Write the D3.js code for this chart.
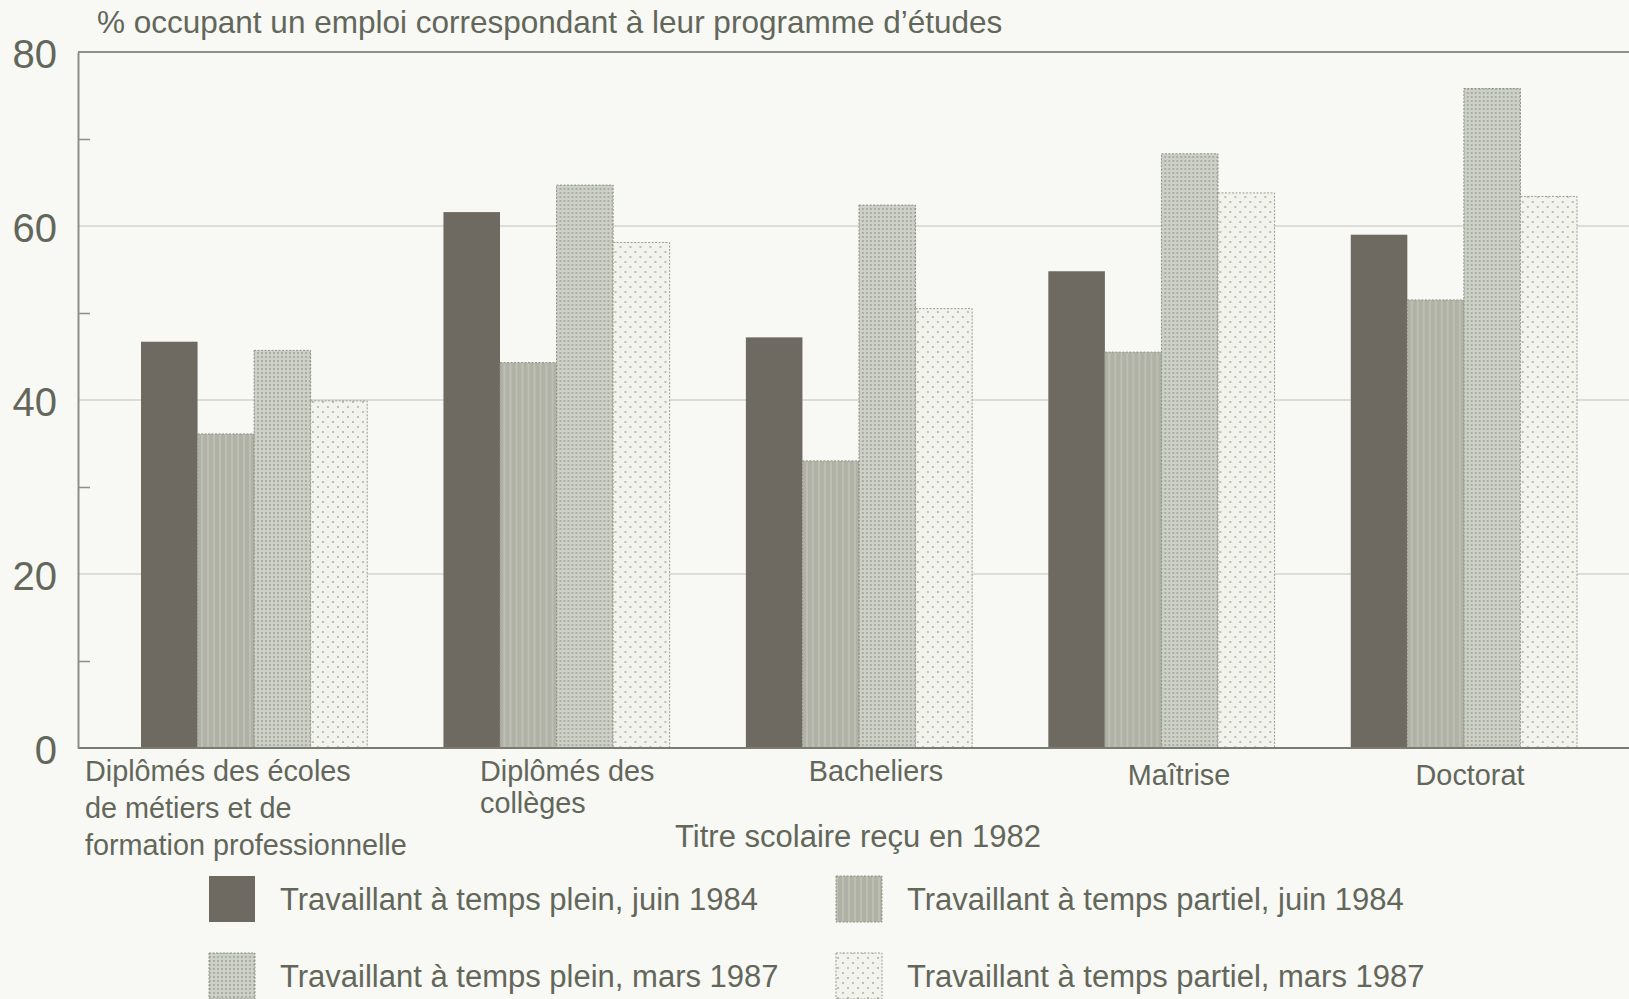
<!DOCTYPE html>
<html>
<head>
<meta charset="utf-8">
<script src="https://cdn.jsdelivr.net/npm/d3@7"></script>
<style>
  html, body { margin: 0; padding: 0; background: #f8f8f5; }
  svg { display: block; }
  text { font-family: "Liberation Sans", Arial, sans-serif; fill: #62675a; }
</style>
</head>
<body>
<svg id="chart" width="1629" height="999"></svg>
<script>
// Categories (diploma received in 1982)
const categories = [
  ["Diplômés des écoles", "de métiers et de", "formation professionnelle"],
  ["Diplômés des", "collèges"],
  ["Bacheliers"],
  ["Maîtrise"],
  ["Doctorat"]
];
const categoryKeys = ["ecoles", "colleges", "bacheliers", "maitrise", "doctorat"];

// Series (employment situation and survey date)
const seriesNames = [
  "Travaillant à temps plein, juin 1984",
  "Travaillant à temps partiel, juin 1984",
  "Travaillant à temps plein, mars 1987",
  "Travaillant à temps partiel, mars 1987"
];

// % holding a job related to their field of study
const pleinJuin1984   = [46.7, 61.6, 47.2, 54.8, 59.0];
const partielJuin1984 = [36.1, 44.3, 33.0, 45.5, 51.5];
const pleinMars1987   = [45.7, 64.7, 62.4, 68.3, 75.8];
const partielMars1987 = [39.9, 58.1, 50.5, 63.8, 63.4];
const seriesValues = [pleinJuin1984, partielJuin1984, pleinMars1987, partielMars1987];

const majorTicks = [0, 20, 40, 60, 80];
const minorTicks = [10, 30, 50, 70];

const svg = d3.select("#chart");
const W = 1629;
const axisX = 78, plotTop = 52, plotBottom = 748;

// Fill patterns for the four series
const defs = svg.append("defs");
const p2 = defs.append("pattern").attr("id", "pat1").attr("patternUnits", "userSpaceOnUse")
  .attr("width", 6).attr("height", 6);
p2.append("rect").attr("width", 6).attr("height", 6).attr("fill", "#b0b2a6");
p2.append("rect").attr("x", 0).attr("width", 2).attr("height", 6).attr("fill", "#bdbfb4");

const p3 = defs.append("pattern").attr("id", "pat2").attr("patternUnits", "userSpaceOnUse")
  .attr("width", 4).attr("height", 4);
p3.append("rect").attr("width", 4).attr("height", 4).attr("fill", "#cdd0c6");
p3.append("circle").attr("cx", 1).attr("cy", 1).attr("r", 0.9).attr("fill", "#9a9d90");

const p4 = defs.append("pattern").attr("id", "pat3").attr("patternUnits", "userSpaceOnUse")
  .attr("width", 10).attr("height", 10);
p4.append("rect").attr("width", 10).attr("height", 10).attr("fill", "#f3f3ee");
p4.append("circle").attr("cx", 2).attr("cy", 2).attr("r", 0.9).attr("fill", "#a4a69a");
p4.append("circle").attr("cx", 7).attr("cy", 7).attr("r", 0.9).attr("fill", "#a4a69a");

const fills = ["#6e6a61", "url(#pat1)", "url(#pat2)", "url(#pat3)"];
const strokes = ["none", "#8f9286", "#8f9286", "#9a9c90"];

// Scales
const y = d3.scaleLinear().domain([0, 80]).range([plotBottom, plotTop]);
const x = d3.scaleBand().domain(categoryKeys).range([141, 1577]).paddingInner(0.252).paddingOuter(0);
const xs = d3.scaleBand().domain(d3.range(seriesNames.length)).range([0, x.bandwidth()]);

// Horizontal gridlines
const grid = svg.append("g");
grid.selectAll("line.grid").data([20, 40, 60]).join("line")
  .attr("x1", axisX).attr("x2", W)
  .attr("y1", d => y(d)).attr("y2", d => y(d))
  .attr("stroke", "#d3d4cd").attr("stroke-width", 1.5);

// Bars
const groups = svg.append("g").selectAll("g").data(categoryKeys).join("g")
  .attr("transform", d => `translate(${x(d)},0)`);
groups.selectAll("rect").data((d, i) => seriesValues.map((s, k) => ({ k, v: s[i] }))).join("rect")
  .attr("x", d => xs(d.k))
  .attr("y", d => y(d.v))
  .attr("width", xs.bandwidth())
  .attr("height", d => y(0) - y(d.v))
  .attr("fill", d => fills[d.k])
  .attr("stroke", d => strokes[d.k])
  .attr("stroke-width", 1)
  .attr("stroke-dasharray", d => d.k === 0 ? null : "2,1.5");

// Frame: top line, baseline and left axis
svg.append("line").attr("x1", axisX).attr("x2", W).attr("y1", y(80)).attr("y2", y(80))
  .attr("stroke", "#8e9087").attr("stroke-width", 2);
svg.append("line").attr("x1", axisX).attr("x2", W).attr("y1", y(0)).attr("y2", y(0))
  .attr("stroke", "#7a7c73").attr("stroke-width", 2);

const yAxis = svg.append("g").attr("transform", `translate(${axisX},0)`)
  .call(d3.axisLeft(y).tickValues(majorTicks).tickSize(0).tickPadding(21));
yAxis.select(".domain").attr("stroke", "#8e9087").attr("stroke-width", 2);
yAxis.selectAll("text").attr("font-size", 40).attr("dy", "0.38em")
  .style("font-family", "'Liberation Sans', Arial, sans-serif").attr("fill", "#62675a");

const yMinor = svg.append("g").attr("transform", `translate(${axisX},0)`)
  .call(d3.axisRight(y).tickValues(minorTicks).tickSize(12).tickFormat(""));
yMinor.select(".domain").remove();
yMinor.selectAll("line").attr("stroke", "#8e9087").attr("stroke-width", 1.5);

// Y axis title
svg.append("text").attr("x", 97).attr("y", 33).attr("font-size", 31.5)
  .text("% occupant un emploi correspondant à leur programme d’études");

// Category labels
const catAnchor = ["start", "start", "middle", "middle", "middle"];
const catX = [85, 480, 876, 1179, 1470];
const catY = [781, 781, 781, 785, 785];
categories.forEach((lines, i) => {
  const t = svg.append("text").attr("font-size", 28.8).attr("text-anchor", catAnchor[i]);
  lines.forEach((ln, j) => {
    t.append("tspan").attr("x", catX[i]).attr("y", catY[i] + j * (i === 1 ? 32 : 37)).text(ln);
  });
});

// X axis title
svg.append("text").attr("x", 858).attr("y", 847).attr("font-size", 31).attr("text-anchor", "middle")
  .text("Titre scolaire reçu en 1982");

// Legend
const legX = [209, 836];
const legY = [899, 976];
seriesNames.forEach((name, k) => {
  const col = k % 2, row = Math.floor(k / 2);
  const g = svg.append("g").attr("transform", `translate(${legX[col]},${legY[row]})`);
  g.append("rect").attr("x", 0).attr("y", -23).attr("width", 46).attr("height", 46)
    .attr("fill", fills[k]).attr("stroke", strokes[k])
    .attr("stroke-dasharray", k === 0 ? null : "2,1.5");
  g.append("text").attr("x", 71).attr("y", 0).attr("dy", "0.35em").attr("font-size", 31).text(name);
});
</script>
</body>
</html>
